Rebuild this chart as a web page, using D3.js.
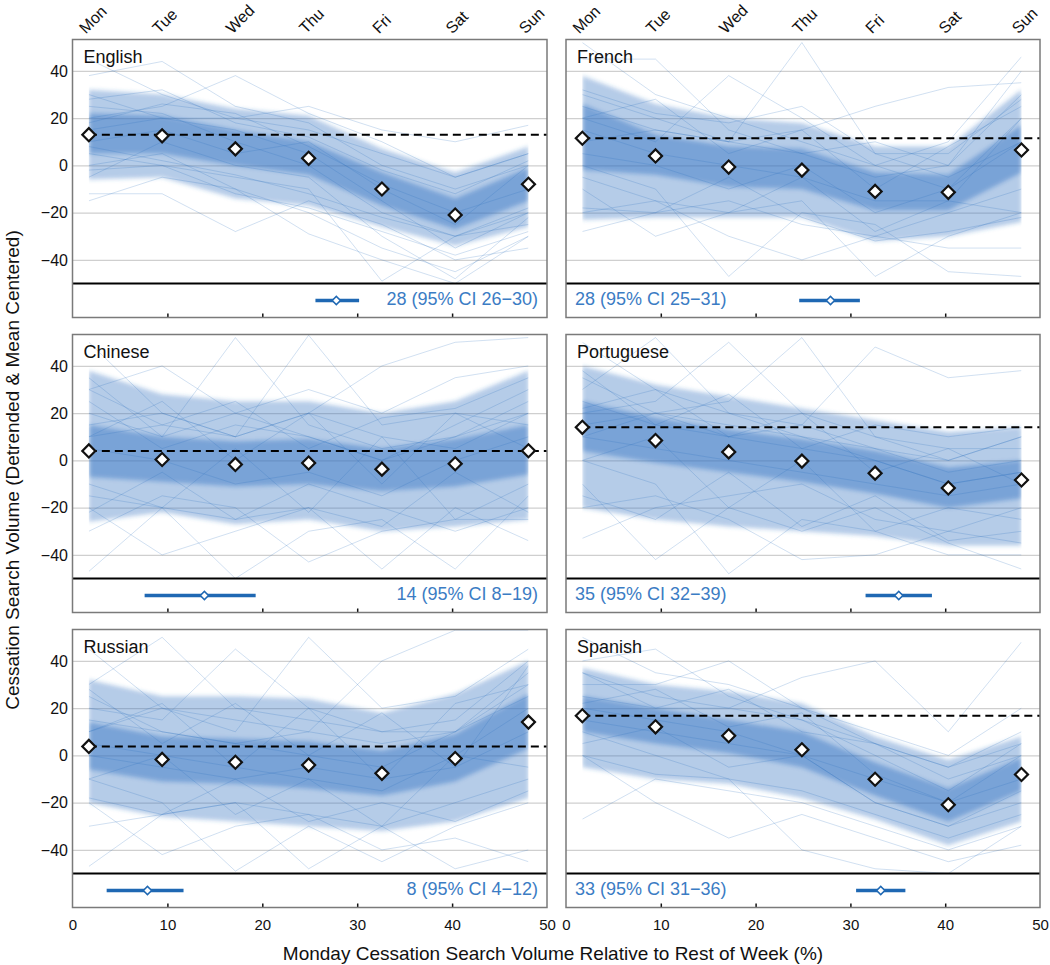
<!DOCTYPE html>
<html>
<head>
<meta charset="utf-8">
<script src="https://cdn.jsdelivr.net/npm/d3@7"></script>
<style>
  body { margin: 0; background: #fff; }
  svg { font-family: "Liberation Sans", Arial, sans-serif; }
  .grid line { stroke: #cfcfcf; stroke-width: 1.2; }
  .grid path { display: none; }
</style>
</head>
<body>
<script>
// weekday names on the top axis
var days = ["Mon", "Tue", "Wed", "Thu", "Fri", "Sat", "Sun"];
var languages = ["English", "French", "Chinese", "Portuguese", "Russian", "Spanish"];

// mean search volume per weekday (diamonds)
var dayMeans = [
  [13, 12.5, 7, 3, -10, -21, -8],
  [11.5, 4, -0.7, -2, -11, -11.4, 6.5],
  [4, 0.4, -1.7, -1.1, -3.7, -1.4, 4.1],
  [14, 8.4, 3.6, -0.3, -5.4, -11.7, -8.3],
  [3.8, -1.7, -2.9, -4.1, -7.6, -1.3, 14.1],
  [16.8, 12.1, 8.3, 2.4, -10.1, -20.9, -8.1]
];

// monday effect (%) with 95% CI
var mondayEffect = [27.8, 27.9, 13.9, 35.1, 7.9, 33.2];
var ciLow = [25.6, 24.6, 7.6, 31.6, 3.6, 30.6];
var ciHigh = [30.2, 31.0, 19.3, 38.6, 11.7, 35.8];

// spread of the individual series: bulk of the lines and the dense core
var wideHi = [
  [32, 30, 24, 21, 7, -3, 8],
  [38, 26, 20, 18, 8, 8, 32],
  [38, 28, 25, 25, 20, 25, 38],
  [40, 32, 27, 22, 17, 12, 14],
  [32, 25, 25, 24, 18, 26, 40],
  [37, 30, 27, 22, 8, -2, 8]
];
var wideLo = [
  [-6, -5, -14, -17, -26, -34, -26],
  [-23, -22, -22, -22, -32, -30, -24],
  [-26, -22, -27, -25, -30, -28, -25],
  [-20, -25, -28, -30, -32, -36, -36],
  [-20, -26, -28, -30, -32, -28, -18],
  [-5, -10, -12, -18, -27, -38, -28]
];
var coreHi = [
  [22, 21, 15, 10, -3, -14, -1],
  [26, 13, 8, 7, -3, -4, 17],
  [15, 10, 8, 9, 5, 9, 15],
  [25, 18, 13, 9, 4, -3, 0],
  [14, 8, 7, 6, 2, 9, 26],
  [25, 20, 15, 10, -3, -14, -1]
];
var coreLo = [
  [5, 5, 0, -4, -17, -27, -15],
  [-2, -4, -9, -10, -19, -19, -3],
  [-7, -9, -11, -10, -13, -11, -6],
  [4, -1, -5, -9, -14, -20, -16],
  [-6, -11, -12, -14, -17, -11, 3],
  [10, 5, 1, -5, -17, -28, -15]
];

// individual faint series, mostly the ones sticking out of the bulk
var englishLines = [
  [45, 30, 20, 15, 5, -5, 5], [38, 44, 25, 18, 0, -10, 0], [20, 25, 38, 22, 10, -5, 5],
  [15, 20, 20, 25, 15, 10, 17], [-15, -5, -10, -20, -35, -45, -30], [-12, -12, -28, -15, -25, -40, -35],
  [0, 5, -10, -29, -40, -50, -30], [5, 0, -5, -10, -49, -30, -25], [25, 22, 10, 0, -20, -30, -20],
  [10, 15, 5, 10, -10, -25, 0], [30, 20, 15, 5, -15, -35, -20], [-5, 10, 0, -5, -30, -48, -22],
  [28, 32, 18, 12, -2, -12, 2], [-2, 0, -12, -18, -28, -38, -28], [18, 26, 22, 8, -8, -20, -10],
  [8, 2, -4, -12, -22, -30, -18]
];
var frenchLines = [
  [52, 30, 20, 10, 0, -10, 20], [45, 45, 15, 5, 10, 0, 30], [20, 10, 38, 20, 0, 10, 46],
  [10, 15, 10, 52, 5, -5, 10], [30, 20, 10, 15, 25, 33, 35], [-28, -20, -15, -25, -30, -20, -10],
  [-10, -30, -20, -15, -47, -30, -20], [0, -10, -47, -20, -25, -45, -47], [-20, -15, -30, -40, -30, -35, -35],
  [15, 5, 0, -5, -15, -15, 20], [5, 0, -10, 0, -20, -10, 10], [25, 15, 10, 5, -5, 0, 40],
  [32, 22, 18, 25, 5, 5, 28], [-18, -20, -5, -22, -32, -28, -22], [20, 28, 5, 15, -10, 8, 25],
  [-5, -15, -20, -5, -28, -15, -20]
];
var chineseLines = [
  [50, 20, 10, 20, 10, 5, 20], [30, 40, 20, 10, 0, 15, 30], [20, 10, 52, 15, 5, 10, 25],
  [10, 15, 10, 53, 15, 20, 15], [15, 20, 10, 20, 40, 50, 52], [-47, -20, -25, -10, -20, -30, -20],
  [-20, -40, -30, -20, -46, -20, -34], [-10, -20, -50, -30, -25, -46, -15], [-30, -15, -20, -43, -30, -25, -25],
  [35, 10, 20, 30, 20, 35, 40], [5, 0, -10, -5, -15, 0, 10], [25, 5, 15, 10, 0, 10, 20],
  [30, 15, 25, 5, 18, 22, 35], [-22, -5, -25, -20, -28, -5, -22], [10, 25, 0, 20, -10, 20, 5],
  [-15, -20, 5, -22, 10, -25, -10]
];
var portugueseLines = [
  [50, 30, 20, 15, 5, 0, 10], [30, 52, 20, 10, 0, -10, -5], [20, 25, 50, 20, 10, 5, 5],
  [15, 20, 25, 52, 10, 0, 10], [10, 20, 10, 15, 48, 35, 38], [-33, -20, -15, -10, -25, -30, -20],
  [-10, -42, -20, -30, -20, -35, -46], [0, -10, -48, -25, -30, -40, -40], [-20, -15, -25, -42, -40, -30, -35],
  [35, 20, 15, 10, 5, -5, 0], [10, 5, 0, -5, -10, -15, -10], [25, 15, 10, 5, 0, -10, -5],
  [38, 15, 28, 5, 15, 10, 14], [-15, -25, -5, -28, -15, -34, -30], [22, 30, 10, 20, -5, 5, -10],
  [0, 10, -20, 0, -30, -20, -25]
];
var russianLines = [
  [45, 20, 15, 10, 5, 10, 35], [30, 50, 20, 15, 10, 15, 40], [20, 15, 45, 20, 10, 10, 30],
  [10, 20, 10, 50, 20, 25, 45], [15, 10, 5, 10, 40, 53, 53], [-47, -25, -20, -25, -30, -20, -10],
  [-20, -42, -30, -25, -40, -35, -45], [-10, -20, -49, -30, -45, -30, -20], [-30, -25, -20, -48, -30, -48, -40],
  [5, 0, -5, -10, -15, 0, 20], [0, -5, -10, -5, -10, -5, 10], [25, 10, 5, 0, -5, 10, 25],
  [28, 5, 22, 0, 18, -5, 38], [-18, -25, -10, -28, -20, -28, -15], [10, 22, -5, 20, -10, 22, 30],
  [-10, 0, -25, -10, -30, 0, -5]
];
var spanishLines = [
  [50, 35, 30, 20, 10, 0, 20], [40, 45, 25, 15, 5, -5, 10], [30, 30, 40, 20, 5, -10, 0],
  [25, 20, 20, 33, 40, 10, 48], [-27, -10, -15, -20, -30, -40, -30], [0, -20, -35, -25, -35, -45, -38],
  [10, 0, -10, -40, -48, -50, -30], [20, 15, 10, 0, -20, -30, -15], [15, 10, 5, 0, -10, -20, -10],
  [35, 25, 20, 15, 0, -15, 5], [35, 20, 28, 10, 5, -5, 5], [0, -8, -10, -15, -25, -35, -25],
  [22, 28, 12, 18, -8, -20, 0], [5, 12, -5, 0, -20, -30, -20]
];
var panelLines = [englishLines, frenchLines, chineseLines, portugueseLines, russianLines, spanishLines];

var yTicks = [-40, -20, 0, 20, 40];
var xTicks = [0, 10, 20, 30, 40, 50];

// layout
var width = 1050, height = 965;
var cols = [[72.5, 547], [566, 1040]];
var rowTop = [39.5, 334.5, 629.5];
var plotH = 244, stripH = 34;

var lineColor = "#2f72c0";
var ciColor = "#1f68b3";
var ciText = "#3b7cc4";

var svg = d3.select("body")
  .append("svg")
  .attr("width", width)
  .attr("height", height);

// soft edge for the density bands
svg.append("defs")
   .append("filter")
   .attr("id", "soft")
   .attr("x", "-5%").attr("y", "-20%")
   .attr("width", "110%").attr("height", "140%")
   .append("feGaussianBlur")
   .attr("stdDeviation", 2);

var diamond = d3.symbol().type(d3.symbolSquare);

languages.forEach(function(lang, i) {
  var col = i % 2, row = Math.floor(i / 2);
  var x0 = cols[col][0], x1 = cols[col][1];
  var top = rowTop[row];

  var xPct = d3.scaleLinear().domain([0, 50]).range([x0, x1]);
  var xDay = d3.scaleLinear().domain([-0.223, 6.253]).range([x0, x1]);
  var y = d3.scaleLinear().domain([-50, 53.3]).range([top + plotH, top]);

  var g = svg.append("g");

  // clip for the spaghetti
  svg.append("clipPath")
     .attr("id", "clip" + i)
     .append("rect")
     .attr("x", xDay(0)).attr("y", top)
     .attr("width", xDay(6) - xDay(0)).attr("height", plotH);

  // gridlines
  g.append("g")
   .attr("class", "grid")
   .attr("transform", "translate(" + x0 + ",0)")
   .call(d3.axisLeft(y).tickValues(yTicks).tickSize(-(x1 - x0)).tickFormat(""));

  var lines = g.append("g").attr("clip-path", "url(#clip" + i + ")");
  var bands = lines.append("g").attr("filter", "url(#soft)");

  // bands
  var band = function(lo, hi) {
    return d3.area()
      .x(function(d, k) { return xDay(k); })
      .y0(function(d, k) { return y(lo[k]); })
      .y1(function(d, k) { return y(hi[k]); })(days);
  };
  bands.append("path")
       .attr("d", band(wideLo[i], wideHi[i]))
       .attr("fill", lineColor)
       .attr("fill-opacity", 0.36);
  bands.append("path")
       .attr("d", band(coreLo[i], coreHi[i]))
       .attr("fill", lineColor)
       .attr("fill-opacity", 0.45);

  // faint individual series
  var lineGen = d3.line()
    .x(function(d, k) { return xDay(k); })
    .y(function(d) { return y(d); });
  lines.selectAll(".series")
       .data(panelLines[i])
       .enter()
       .append("path")
       .attr("d", lineGen)
       .attr("fill", "none")
       .attr("stroke", lineColor)
       .attr("stroke-opacity", 0.22)
       .attr("stroke-width", 1);

  // dashed reference at monday mean
  g.append("line")
   .attr("x1", xDay(0)).attr("x2", x1)
   .attr("y1", y(dayMeans[i][0])).attr("y2", y(dayMeans[i][0]))
   .attr("stroke", "#000")
   .attr("stroke-width", 2)
   .attr("stroke-dasharray", "8,5");

  // weekday means
  g.selectAll(".mean")
   .data(dayMeans[i])
   .enter()
   .append("path")
   .attr("d", diamond.size(85))
   .attr("transform", function(d, k) {
     return "translate(" + xDay(k) + "," + y(d) + ") rotate(45)";
   })
   .attr("fill", "#fff")
   .attr("stroke", "#111")
   .attr("stroke-width", 2.2);

  // panel label
  g.append("text")
   .attr("x", x0 + 11)
   .attr("y", top + 23)
   .attr("font-size", 18)
   .attr("fill", "#111")
   .text(lang);

  // y axis labels on the left column
  if (col == 0) {
    var yAxis = g.append("g")
      .attr("transform", "translate(" + x0 + ",0)")
      .call(d3.axisLeft(y).tickValues(yTicks).tickSize(0).tickPadding(4.5));
    yAxis.select(".domain").remove();
    yAxis.selectAll("text").attr("font-size", 16).attr("fill", "#111");
  }

  // weekday labels on the top row
  if (row == 0) {
    g.selectAll(".day")
     .data(days)
     .enter()
     .append("text")
     .attr("transform", function(d, k) {
       return "translate(" + (xDay(k) - 3) + "," + (top - 5) + ") rotate(-45)";
     })
     .attr("font-size", 16)
     .attr("fill", "#111")
     .text(function(d) { return d; });
  }

  // CI strip
  var stripY = top + plotH;
  var barY = stripY + stripH / 2;
  g.append("line")
   .attr("x1", xPct(ciLow[i])).attr("x2", xPct(ciHigh[i]))
   .attr("y1", barY).attr("y2", barY)
   .attr("stroke", ciColor)
   .attr("stroke-width", 3.5);
  g.append("path")
   .attr("d", diamond.size(34))
   .attr("transform", "translate(" + xPct(mondayEffect[i]) + "," + barY + ") rotate(45)")
   .attr("fill", "#fff")
   .attr("stroke", ciColor)
   .attr("stroke-width", 1.5);

  var label = Math.round(mondayEffect[i]) + " (95% CI " + Math.round(ciLow[i]) + "\u2212" + Math.round(ciHigh[i]) + ")";
  g.append("text")
   .attr("x", col == 0 ? x1 - 9 : x0 + 9)
   .attr("y", stripY + 21.5)
   .attr("text-anchor", col == 0 ? "end" : "start")
   .attr("font-size", 18)
   .attr("fill", ciText)
   .text(label);

  // small inward ticks at the bottom of each panel
  var tickAxis = g.append("g")
    .attr("transform", "translate(0," + (stripY + stripH) + ")")
    .call(d3.axisBottom(xPct).tickValues([10, 20, 30, 40]).tickSize(-4).tickFormat(""));
  tickAxis.select(".domain").remove();
  tickAxis.selectAll("line").attr("stroke", "#111").attr("stroke-width", 1.5);

  if (row == 2) {
    var xAxis = g.append("g")
      .attr("transform", "translate(0," + (stripY + stripH) + ")")
      .call(d3.axisBottom(xPct).tickValues(xTicks).tickSize(0).tickPadding(12));
    xAxis.select(".domain").remove();
    xAxis.selectAll("text").attr("font-size", 15).attr("fill", "#111");
  }

  // divider between plot and strip
  g.append("line")
   .attr("x1", x0).attr("x2", x1)
   .attr("y1", stripY).attr("y2", stripY)
   .attr("stroke", "#000")
   .attr("stroke-width", 2);

  // frame
  g.append("rect")
   .attr("x", x0).attr("y", top)
   .attr("width", x1 - x0).attr("height", plotH + stripH)
   .attr("fill", "none")
   .attr("stroke", "#7a7a7a")
   .attr("stroke-width", 1.5);
});

// axis titles
svg.append("text")
   .attr("transform", "translate(19,470) rotate(-90)")
   .attr("text-anchor", "middle")
   .attr("font-size", 19)
   .attr("fill", "#111")
   .text("Cessation Search Volume (Detrended & Mean Centered)");

svg.append("text")
   .attr("x", 553)
   .attr("y", 960)
   .attr("text-anchor", "middle")
   .attr("font-size", 19)
   .attr("fill", "#111")
   .text("Monday Cessation Search Volume Relative to Rest of Week (%)");
</script>
</body>
</html>
